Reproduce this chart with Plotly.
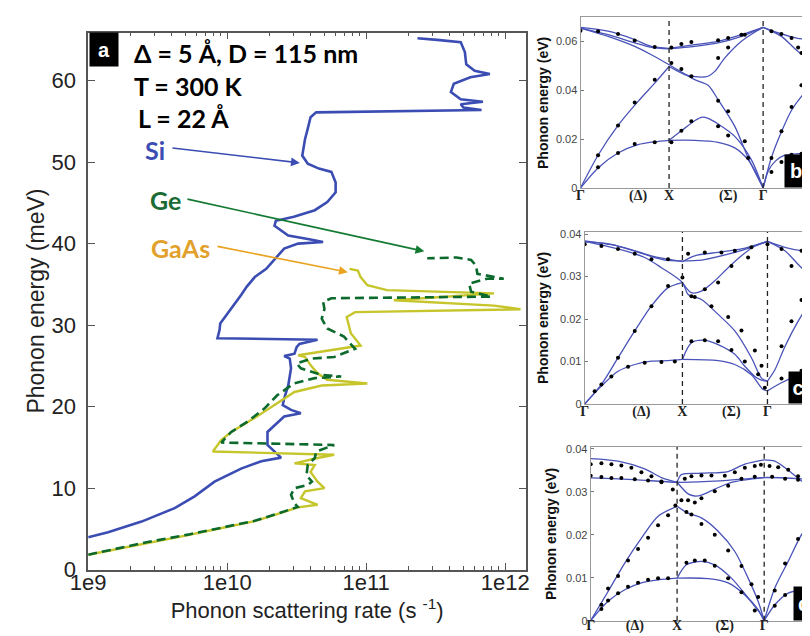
import math
import plotly.graph_objects as go

# ---------------- Panel a: scattering rate vs phonon energy ----------------
si_rate = [1.0e9, 1.39e9, 2.42e9, 4.19e9, 5.83e9, 8.11e9, 1.26e10, 1.76e10, 2.44e10, 1.95e10,
           1.95e10, 2.19e10, 2.57e10, 3.39e10, 2.88e10, 2.51e10, 2.57e10, 2.75e10, 2.88e10, 2.82e10,
           2.57e10, 3.05e10, 3.16e10, 3.31e10, 4.47e10, 8.51e9, 8.81e9, 8.91e9, 1.07e10, 1.26e10,
           1.38e10, 1.58e10, 1.91e10, 2.24e10, 2.57e10, 3.24e10, 4.90e10, 3.98e10, 2.75e10, 2.19e10,
           2.24e10, 3.02e10, 4.27e10, 5.25e10, 6.03e10, 6.03e10, 5.62e10, 4.57e10, 3.80e10, 3.47e10,
           3.63e10, 3.80e10, 3.98e10, 4.37e10, 6.76e11, 5.01e11, 4.79e11, 6.92e11, 4.79e11, 4.07e11,
           4.27e11, 5.62e11, 7.76e11, 6.03e11, 5.25e11, 5.13e11, 4.79e11, 3.24e11, 2.34e11]
si_energy = [3.97, 4.6, 5.9, 7.55, 9.0, 10.8, 12.4, 13.3, 13.75, 15.3,
             16.9, 17.7, 18.8, 19.2, 19.6, 20.2, 21.0, 22.6, 24.7, 25.9,
             26.2, 26.5, 27.3, 27.7, 28.2, 28.4, 29.4, 30.2, 32.0, 33.7,
             34.7, 35.9, 36.9, 38.2, 39.4, 40.0, 40.2, 40.5, 41.0, 42.2,
             42.8, 43.3, 44.1, 45.1, 46.3, 47.5, 48.8, 49.2, 49.8, 50.8,
             52.8, 54.1, 55.5, 56.1, 56.4, 56.7, 57.1, 57.4, 57.7, 58.6,
             59.6, 60.4, 60.8, 61.2, 62.0, 63.5, 64.7, 65.0, 65.2]

ge_rate = [1.0e9, 1.64e9, 2.69e9, 5.22e9, 9.31e9, 1.58e10, 2.32e10, 3.22e10, 3.05e10, 2.88e10,
           3.05e10, 3.80e10, 4.07e10, 3.72e10, 3.80e10, 4.27e10, 4.37e10, 5.01e10, 5.89e10, 9.06e9,
           1.07e10, 1.41e10, 1.86e10, 2.29e10, 3.02e10, 4.27e10, 6.61e10, 4.79e10, 3.39e10, 3.16e10,
           4.07e10, 5.89e10, 8.32e10, 6.92e10, 5.25e10, 4.79e10, 5.01e10, 4.90e10, 5.62e10, 7.94e11,
           5.69e11, 5.50e11, 7.41e11, 9.77e11, 6.31e11, 6.17e11, 5.69e11, 4.47e11, 2.75e11]
ge_energy = [1.84, 2.6, 3.4, 4.3, 5.2, 6.0, 6.9, 7.7, 8.16, 9.18,
             10.0, 10.4, 10.8, 11.6, 12.85, 13.7, 14.5, 14.9, 15.3, 15.6,
             16.9, 18.2, 19.8, 21.4, 22.85, 23.5, 23.7, 23.9, 24.7, 25.3,
             25.9, 26.1, 27.1, 28.6, 29.6, 30.8, 32.0, 32.85, 33.3, 33.5,
             34.1, 35.1, 35.7, 35.7, 36.3, 37.3, 38.0, 38.3, 38.2]

gaas_rate = [1.0e9, 1.64e9, 2.69e9, 5.22e9, 9.31e9, 1.58e10, 2.32e10, 3.22e10, 4.47e10, 3.39e10,
             3.63e10, 5.01e10, 4.47e10, 3.98e10, 4.27e10, 3.05e10, 4.47e10, 5.89e10, 7.89e9, 9.06e9,
             1.07e10, 1.57e10, 2.19e10, 3.05e10, 4.79e10, 1.02e11, 5.25e10, 4.47e10, 3.98e10, 3.63e10,
             3.24e10, 5.62e10, 9.12e10, 7.76e10, 7.41e10, 7.24e10, 8.32e10, 1.29e12, 8.32e11, 1.58e11,
             8.32e11, 1.41e11, 1.02e11, 9.12e10, 8.71e10, 7.59e10]
gaas_energy = [1.84, 2.55, 3.35, 4.25, 5.15, 5.95, 6.85, 7.65, 7.96, 8.78,
               9.6, 10.0, 10.8, 12.0, 12.85, 13.05, 13.7, 14.1, 14.5, 15.9,
               16.9, 18.6, 20.2, 21.8, 22.6, 22.85, 23.3, 24.1, 25.1, 26.1,
               26.3, 26.9, 27.5, 29.0, 30.2, 31.0, 31.6, 31.95, 32.4, 33.05,
               33.9, 34.3, 34.9, 35.9, 36.7, 36.9]

rate_ticks = [1e9, 1e10, 1e11, 1e12]
rate_tick_text = ["1e9", "1e10", "1e11", "1e12"]
energy_ticks = [0, 10, 20, 30, 40, 50, 60]

# label positions (rate, energy): text, arrow tail, arrow head
si_label = (3.02e9, 51.5); si_tail = (3.94e9, 51.75); si_head = (3.33e10, 49.9)
ge_label = (3.62e9, 45.4); ge_tail = (5.05e9, 45.5); ge_head = (2.62e11, 39.05)
gaas_label = (4.64e9, 39.5); gaas_tail = (8.30e9, 39.7); gaas_head = (7.38e10, 36.5)

# ---------------- Panel b: Si dispersion ----------------
b_sym = [0, 1.0, 2.062, 2.676]
b_label_pos = [0, 0.65, 1.0, 1.667, 2.062, 2.676]
b_branches = [
    ([0, 0.311, 0.612, 0.80, 1.0], [0.0657, 0.0641, 0.0607, 0.0579, 0.0571]),
    ([0, 0.311, 0.612, 0.80, 1.0], [0.0654, 0.0627, 0.0593, 0.0575, 0.0569]),
    ([0, 0.311, 0.612, 0.80, 1.0, 1.29, 1.441, 1.554, 1.742, 1.893, 2.062],
     [0.0654, 0.0620, 0.0579, 0.0545, 0.0504, 0.0443, 0.0420, 0.0361, 0.0252, 0.0123, 0.0]),
    ([0, 0.198, 0.424, 0.65, 0.838, 1.0], [0, 0.0134, 0.0256, 0.0354, 0.0429, 0.0497]),
    ([1.0, 1.177, 1.328, 1.441, 1.516, 1.63, 1.817, 1.98, 2.062],
     [0.0497, 0.0464, 0.0454, 0.0457, 0.0477, 0.0532, 0.0600, 0.0640, 0.0657]),
    ([1.0, 1.29, 1.554, 1.817, 2.062], [0.0571, 0.0586, 0.0600, 0.0627, 0.0657]),
    ([1.0, 1.29, 1.554, 1.817, 2.062], [0.0569, 0.0579, 0.0593, 0.0620, 0.0657]),
    ([0, 0.198, 0.424, 0.65, 0.838, 1.0], [0, 0.0082, 0.0143, 0.0177, 0.0189, 0.0195]),
    ([1.0, 1.29, 1.554, 1.742, 1.893, 2.0, 2.062], [0.0195, 0.0195, 0.0187, 0.0164, 0.0115, 0.0050, 0]),
    ([1.0, 1.139, 1.29, 1.365, 1.44, 1.554, 1.742, 1.93, 2.062],
     [0.0195, 0.0234, 0.0275, 0.0289, 0.0285, 0.0262, 0.0211, 0.0115, 0]),
    ([2.062, 2.156, 2.269, 2.383, 2.495, 2.676], [0, 0.0125, 0.0230, 0.0318, 0.0375, 0.0445]),
    ([2.062, 2.12, 2.2, 2.3, 2.45, 2.676], [0, 0.0070, 0.0110, 0.0133, 0.0140, 0.0141]),
    ([2.062, 2.269, 2.45, 2.676], [0.0657, 0.0630, 0.0612, 0.0607]),
    ([2.062, 2.269, 2.45, 2.676], [0.0657, 0.0620, 0.0560, 0.0500]),
]
b_dot_k = [0, 0.198, 0.424, 0.612, 0.838, 1.026, 1.139, 1.252, 1.554, 1.667, 1.817,
           0.198, 0.424, 0.612, 0.838, 1.026, 1.139, 1.252, 1.554, 1.667, 1.855,
           1.554, 1.667, 1.855,
           0.198, 0.424, 0.612, 0.838, 1.026, 1.139, 1.252, 1.554, 1.667, 1.893,
           2.156, 2.269, 2.383, 2.495, 2.676,
           2.156, 2.269, 2.383, 2.495, 2.676,
           2.156, 2.269, 2.383, 2.457, 2.495, 2.676]
b_dot_e = [0.0643, 0.0641, 0.0630, 0.0603, 0.0577, 0.0575, 0.0589, 0.0597, 0.0604, 0.0613, 0.0627,
           0.0134, 0.0256, 0.0350, 0.0443, 0.0511, 0.0487, 0.0457, 0.0532, 0.0575, 0.0627,
           0.0357, 0.0314, 0.0191,
           0.0085, 0.0143, 0.0180, 0.0187, 0.0187, 0.0234, 0.0273, 0.0252, 0.0215, 0.0123,
           0.0123, 0.0232, 0.0331, 0.0420, 0.0470,
           0.0065, 0.0106, 0.0136, 0.0140, 0.0141,
           0.0641, 0.0630, 0.0613, 0.0575, 0.0552, 0.0521]

# ---------------- Panel c: Ge dispersion ----------------
c_sym = [0, 1.0, 1.870, 2.382]
c_label_pos = [0, 0.58, 1.0, 1.50, 1.870, 2.382]
c_branches = [
    ([0, 0.341, 0.683, 1.0], [0.0384, 0.0372, 0.0349, 0.0335]),
    ([0, 0.273, 0.512, 0.683, 0.819, 1.0], [0.0382, 0.0376, 0.0360, 0.0347, 0.0339, 0.0337]),
    ([0, 0.341, 0.614, 0.785, 1.0, 1.058, 1.195, 1.365, 1.536, 1.706, 1.809, 1.870],
     [0.0383, 0.0365, 0.0345, 0.0321, 0.0286, 0.0258, 0.0246, 0.0211, 0.0172, 0.0109, 0.0061, 0.0054]),
    ([0, 0.171, 0.341, 0.512, 0.683, 0.853, 1.0], [0, 0.0046, 0.0109, 0.0172, 0.0231, 0.0274, 0.0286]),
    ([1.0, 1.092, 1.195, 1.331, 1.468, 1.604, 1.741, 1.870],
     [0.0286, 0.0262, 0.0266, 0.0290, 0.0321, 0.0349, 0.0372, 0.0383]),
    ([1.0, 1.126, 1.365, 1.604, 1.870], [0.0335, 0.0349, 0.0357, 0.0365, 0.0383]),
    ([1.0, 1.195, 1.468, 1.706, 1.870], [0.0337, 0.0339, 0.0353, 0.0369, 0.0383]),
    ([0, 0.171, 0.341, 0.512, 0.683, 0.853, 1.0], [0, 0.0042, 0.0077, 0.0093, 0.0101, 0.0102, 0.0105]),
    ([1.0, 1.365, 1.536, 1.706, 1.826, 1.870], [0.0105, 0.0102, 0.0093, 0.0069, 0.0034, 0.0031]),
    ([1.0, 1.092, 1.229, 1.365, 1.536, 1.638, 1.741, 1.809, 1.870],
     [0.0105, 0.0144, 0.0150, 0.0140, 0.0117, 0.0089, 0.0065, 0.0056, 0.0054]),
    ([1.870, 1.945, 2.048, 2.184, 2.287, 2.382], [0.0054, 0.0080, 0.0135, 0.0195, 0.0232, 0.0255]),
    ([1.870, 2.014, 2.218, 2.382], [0.0031, 0.0050, 0.0071, 0.0076]),
    ([1.870, 2.048, 2.218, 2.382], [0.0383, 0.0369, 0.0361, 0.0359]),
    ([1.870, 2.048, 2.218, 2.382], [0.0383, 0.0361, 0.0321, 0.0294]),
]
c_dot_k = [0, 0.171, 0.341, 0.512, 0.683, 0.853, 1.058, 1.229, 1.399, 1.536, 1.706, 1.870, 2.014, 2.116, 2.218, 2.382, 2.382,
           0.171, 0.341, 0.512, 0.683, 0.853, 1.0, 1.092, 1.229, 1.365, 1.502, 1.672,
           1.126, 1.297, 1.468, 1.604, 1.741, 1.809,
           0.102, 0.273, 0.444, 0.614, 0.785, 0.922,
           1.092, 1.229, 1.365, 1.502, 1.638, 1.775, 1.843,
           2.014, 2.116, 2.218, 2.382, 2.014, 2.218, 2.382]
c_dot_e = [0.0376, 0.0372, 0.0365, 0.0354, 0.0341, 0.0341, 0.0354, 0.0357, 0.0357, 0.0361, 0.0369, 0.0376, 0.0365, 0.0325, 0.0361, 0.0357, 0.0302,
           0.0046, 0.0109, 0.0172, 0.0230, 0.0278, 0.0298, 0.0254, 0.0270, 0.0286, 0.0325, 0.0345,
           0.0252, 0.0230, 0.0205, 0.0173, 0.0126, 0.0090,
           0.0030, 0.0065, 0.0088, 0.0097, 0.0099, 0.0100,
           0.0148, 0.0150, 0.0148, 0.0127, 0.0100, 0.0070, 0.0038,
           0.0136, 0.0195, 0.0245, 0.0275, 0.0060, 0.0078, 0.0078]

# ---------------- Panel d: GaAs dispersion ----------------
d_sym = [0, 1.0, 2.008, 2.625]
d_label_pos = [0, 0.51, 1.0, 1.55, 2.008, 2.61]
d_branches = [
    ([0, 0.317, 0.625, 0.819, 1.0], [0.0377, 0.0371, 0.0353, 0.0333, 0.0322]),
    ([0, 0.51, 1.0, 1.5, 2.008, 2.625], [0.0332, 0.0328, 0.0322, 0.0325, 0.0333, 0.0328]),
    ([1.0, 1.05, 1.282, 1.591, 1.784, 2.008], [0.0322, 0.0340, 0.0343, 0.0347, 0.0364, 0.0374]),
    ([1.0, 1.127, 1.205, 1.282, 1.436, 1.629, 2.008], [0.0322, 0.0295, 0.0290, 0.0292, 0.0306, 0.0322, 0.0333]),
    ([0, 0.201, 0.394, 0.587, 0.780, 1.0], [0, 0.0068, 0.0134, 0.0192, 0.0243, 0.0266]),
    ([1.0, 1.127, 1.282, 1.475, 1.668, 1.822, 1.938, 2.008], [0.0266, 0.0250, 0.0239, 0.0208, 0.0161, 0.0099, 0.0045, 0]),
    ([0, 0.201, 0.394, 0.587, 0.780, 1.0], [0, 0.0045, 0.0072, 0.0088, 0.0095, 0.0099]),
    ([1.0, 1.359, 1.591, 1.784, 1.938, 2.008], [0.0099, 0.0098, 0.0088, 0.0060, 0.0026, 0]),
    ([1.0, 1.108, 1.282, 1.436, 1.629, 1.822, 1.958, 2.008], [0.0099, 0.0130, 0.0138, 0.0130, 0.0099, 0.0053, 0.0018, 0]),
    ([2.008, 2.131, 2.286, 2.440, 2.625], [0, 0.0076, 0.0138, 0.0200, 0.0250]),
    ([2.008, 2.131, 2.286, 2.440, 2.625], [0, 0.0037, 0.0064, 0.0072, 0.0074]),
    ([2.008, 2.131, 2.286, 2.44, 2.625], [0.0374, 0.0371, 0.0350, 0.0325, 0.0302]),
]
d_dot_k = [0, 0.124, 0.240, 0.355, 0.471, 0.587, 0.703, 0.819,
           0, 0.124, 0.240, 0.355, 0.51, 0.664, 0.819, 0.95,
           0.124, 0.201, 0.317, 0.432, 0.548, 0.664, 0.780, 0.896, 0.98,
           0.124, 0.201, 0.317, 0.432, 0.548, 0.664, 0.780, 0.896,
           1.05, 1.108, 1.166, 1.282, 1.436, 1.591, 1.745, 1.861, 1.938,
           1.108, 1.205, 1.320, 1.436, 1.591, 1.745, 1.899,
           1.089, 1.166, 1.282, 1.398, 1.552, 1.668, 1.784, 1.899, 1.97,
           1.127, 1.205, 1.282, 1.436, 1.591, 1.745, 1.899,
           2.07, 2.17, 2.286, 2.40, 2.52, 2.61, 2.10, 2.25, 2.40, 2.61,
           2.13, 2.25, 2.40, 2.52, 2.61, 2.13, 2.25, 2.40, 2.52]
d_dot_e = [0.0364, 0.0366, 0.0364, 0.0361, 0.0356, 0.0345, 0.0336, 0.0324,
           0.0337, 0.0334, 0.0332, 0.0332, 0.0329, 0.0326, 0.0322, 0.0305,
           0.0037, 0.0075, 0.0104, 0.0140, 0.0167, 0.0193, 0.0222, 0.0245, 0.0268,
           0.0027, 0.0047, 0.0064, 0.0079, 0.0088, 0.0095, 0.0099, 0.0099,
           0.0280, 0.0253, 0.0247, 0.0225, 0.0200, 0.0163, 0.0127, 0.0085, 0.0055,
           0.0135, 0.0140, 0.0140, 0.0128, 0.0099, 0.0066, 0.0024,
           0.0330, 0.0336, 0.0338, 0.0338, 0.0337, 0.0345, 0.0356, 0.0360, 0.0363,
           0.0280, 0.0275, 0.0285, 0.0301, 0.0314, 0.0330, 0.0335,
           0.0360, 0.0357, 0.0351, 0.0336, 0.0310, 0.0300, 0.0335, 0.0330, 0.0328, 0.0327,
           0.0070, 0.0133, 0.0190, 0.0233, 0.0256, 0.0035, 0.0060, 0.0072, 0.0076]

k_labels = ["<b>Γ</b>", "<b>(Δ)</b>", "<b>X</b>", "<b>(Σ)</b>", "<b>Γ</b>", "<b>L</b>"]

# ---------------- styles ----------------
SI_C = "#3b4db3"
GE_C = "#0c6a2c"
GAAS_C = "#c6c62c"
DISP_C = "#4953b8"
AXIS_C = "#555555"
W, H = 810, 636

fig = go.Figure()

fig.add_trace(go.Scatter(x=si_rate, y=si_energy, mode="lines", line=dict(color=SI_C, width=2.6),
                         xaxis="x", yaxis="y", showlegend=False))
fig.add_trace(go.Scatter(x=gaas_rate, y=gaas_energy, mode="lines", line=dict(color=GAAS_C, width=2.4),
                         xaxis="x", yaxis="y", showlegend=False))
fig.add_trace(go.Scatter(x=ge_rate, y=ge_energy, mode="lines",
                         line=dict(color=GE_C, width=2.6, dash="9px,5px"),
                         xaxis="x", yaxis="y", showlegend=False))

panels = [
    ("x2", "y2", b_branches, b_dot_k, b_dot_e, b_sym),
    ("x3", "y3", c_branches, c_dot_k, c_dot_e, c_sym),
    ("x4", "y4", d_branches, d_dot_k, d_dot_e, d_sym),
]
shapes = []
for xa, ya, branches, dk, de, sym in panels:
    for ks, es in branches:
        fig.add_trace(go.Scatter(x=ks, y=es, mode="lines", line=dict(color=DISP_C, width=1.3, shape="spline", smoothing=0.8),
                                 xaxis=xa, yaxis=ya, showlegend=False, hoverinfo="skip"))
    fig.add_trace(go.Scatter(x=dk, y=de, mode="markers", marker=dict(color="black", size=4),
                             xaxis=xa, yaxis=ya, showlegend=False))
    for kv in sym[1:3]:
        shapes.append(dict(type="line", xref=xa, yref=ya + " domain", x0=kv, x1=kv, y0=0, y1=1,
                           line=dict(color="#222", width=1.3, dash="5px,4px")))

minor_vals = [m * 10 ** n for n in (9, 10, 11) for m in range(2, 10)] + [2e12]

layout = dict(
    width=W, height=H, margin=dict(l=0, r=0, t=0, b=0, autoexpand=False),
    paper_bgcolor="white", plot_bgcolor="white",
    font=dict(family="Liberation Sans, Arial, sans-serif", color="#222"),
    xaxis=dict(type="log", domain=[80.2 / W, 518 / W], range=[9, 12.15], automargin=False,
               tickmode="array", tickvals=rate_ticks, ticktext=rate_tick_text,
               ticks="inside", ticklen=7, tickwidth=1.2, tickcolor=AXIS_C, ticklabelstandoff=-8,
               minor=dict(tickmode="array", tickvals=minor_vals, ticks="inside", ticklen=4, tickcolor=AXIS_C, showgrid=False),
               showline=True, linecolor=AXIS_C, linewidth=1.6, mirror="allticks",
               showgrid=False, zeroline=False, tickfont=dict(size=22, color="#222"),
               title=dict(text="Phonon scattering rate (s <sup>-1</sup>)", font=dict(size=22, color="#222"), standoff=8)),
    yaxis=dict(domain=[1 - 561.7 / H, 1 - 24.5 / H], range=[0, 65.9], automargin=False,
               tickmode="array", tickvals=energy_ticks,
               ticks="inside", ticklen=7, tickwidth=1.2, tickcolor=AXIS_C, ticklabelstandoff=6,
               showline=True, linecolor=AXIS_C, linewidth=1.6, mirror="allticks",
               showgrid=False, zeroline=False, tickfont=dict(size=22, color="#222"),
               title=dict(text="Phonon energy (meV)", font=dict(size=23, color="#222"), standoff=0)),
)

panel_geom = [
    ("2", [572.5 / W, 809.5 / W], [1 - 180 / H, 1 - 9.3 / H], [0, b_sym[3]], [0, 0.0698], 0.02, b_label_pos, -6),
    ("3", [576.7 / W, 809.5 / W], [1 - 396 / H, 1 - 224 / H], [0, c_sym[3]], [0, 0.0405], 0.01, c_label_pos, -6),
    ("4", [582.7 / W, 809.5 / W], [1 - 612.7 / H, 1 - 439 / H], [0, d_sym[3]], [0, 0.0404], 0.01, d_label_pos, -9),
]
for n, xd, yd, xr, yr, dt, lpos, lso in panel_geom:
    layout["xaxis" + n] = dict(domain=xd, range=xr, anchor="y" + n, showgrid=False, zeroline=False, automargin=False,
                               showline=True, linecolor="#999", linewidth=1, mirror=True, ticks="",
                               tickmode="array", tickvals=lpos, ticktext=k_labels, ticklabelstandoff=lso,
                               tickfont=dict(family="Liberation Serif, Times New Roman, serif", size=14, color="#222"))
    layout["yaxis" + n] = dict(domain=yd, range=yr, anchor="x" + n, showgrid=False, zeroline=False, automargin=False,
                               showline=True, linecolor="#999", linewidth=1, mirror=True,
                               ticks="inside", ticklen=3, tickcolor="#777", dtick=dt, tick0=0,
                               tickfont=dict(size=11, color="#444"))

annotations = []
# panel a texts
info = [("<b>Δ = 5 Å, D = 115 nm</b>", 124, 45), ("<b>T = 300 K</b>", 124, 78), ("<b>L = 22 Å</b>", 128, 110)]
for t, px, py in info:
    annotations.append(dict(text=t, xref="paper", yref="paper", x=px / W, y=1 - py / H, xanchor="left", yanchor="middle",
                            align="left", showarrow=False,
                            font=dict(family="Lato, Liberation Sans, sans-serif", size=25, color="black")))
for txt, col, lab, tail, head in [("Si", SI_C, si_label, si_tail, si_head),
                                  ("Ge", "#1b6b34", ge_label, ge_tail, ge_head),
                                  ("GaAs", "#e2a12c", gaas_label, gaas_tail, gaas_head)]:
    arrow_col = {"Si": SI_C, "Ge": "#137a32", "GaAs": "#eaa320"}[txt]
    annotations.append(dict(text="<b>%s</b>" % txt, xref="x", yref="y", x=math.log10(lab[0]), y=lab[1],
                            showarrow=False, font=dict(family="Lato, Liberation Sans, sans-serif", size=25, color=col)))
    annotations.append(dict(text="", xref="x", yref="y", x=math.log10(head[0]), y=head[1],
                            axref="x", ayref="y", ax=math.log10(tail[0]), ay=tail[1],
                            showarrow=True, arrowhead=2, arrowsize=1.1, arrowwidth=1.6, arrowcolor=arrow_col, standoff=0))
# panel letters
for letter, px, py, w, h in [("a", 80.5, 24.5, 28, 33), ("b", 800, 180, 22, 32), ("c", 800, 396, 18, 31), ("d", 807, 612.7, 20, 33)]:
    if letter == "a":
        annotations.append(dict(text="<b>a</b>", xref="paper", yref="paper", x=px / W, y=1 - py / H, xanchor="left", yanchor="top",
                                showarrow=False, bgcolor="black", width=w, height=h, borderpad=0,
                                font=dict(family="Liberation Sans, Arial", size=20, color="white")))
    else:
        annotations.append(dict(text="<b>%s</b>" % letter, xref="paper", yref="paper", x=px / W, y=1 - py / H, xanchor="right", yanchor="bottom",
                                showarrow=False, bgcolor="black", width=w, height=h, borderpad=0,
                                font=dict(family="Liberation Sans, Arial", size=20, color="white")))
# right panel y titles
for px, py in [(535, 95), (535, 310), (543, 526)]:
    annotations.append(dict(text="<b>Phonon energy (eV)</b>", xref="paper", yref="paper", x=px / W, y=1 - py / H,
                            xanchor="center", yanchor="middle", textangle=-90, showarrow=False,
                            font=dict(family="Liberation Sans, Arial", size=14, color="#111")))

layout["annotations"] = annotations
layout["shapes"] = shapes
fig.update_layout(**layout)
fig.write_html("out.html")
